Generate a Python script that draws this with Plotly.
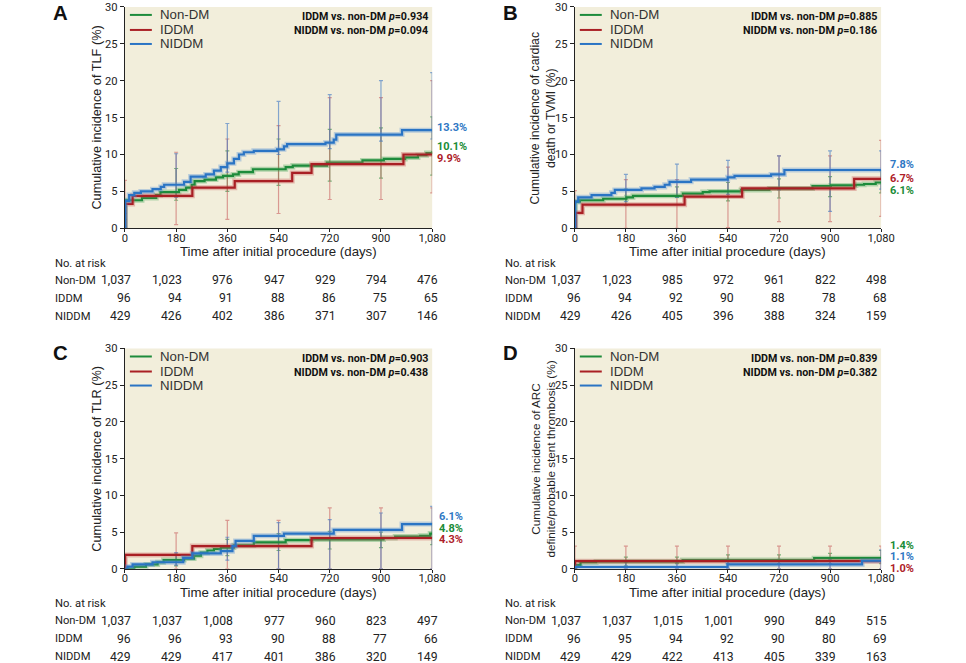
import plotly.graph_objects as go

# ---------------- shared ----------------
TIME_TICKS = [0, 180, 360, 540, 720, 900, 1080]
TIME_TICK_LABELS = ["0", "180", "360", "540", "720", "900", "1,080"]
Y_TICKS = [0, 5, 10, 15, 20, 25, 30]
GROUPS = ["Non-DM", "IDDM", "NIDDM"]

# ---------------- Panel A: TLF ----------------
A_NONDM_T = [0, 1, 60, 110, 125, 190, 215, 235, 245, 280, 320, 345, 380, 400, 450, 565, 590, 710, 835, 910, 985, 1030, 1060, 1080]
A_NONDM_Y = [0, 3.8, 4.1, 4.5, 4.9, 5.2, 5.5, 5.9, 6.4, 6.6, 6.9, 7.1, 7.3, 7.6, 8.0, 8.3, 8.5, 8.9, 9.2, 9.4, 9.6, 9.9, 10.2, 10.4]
A_IDDM_T = [0, 1, 27, 237, 386, 588, 656, 979, 1080]
A_IDDM_Y = [0, 3.3, 4.4, 5.5, 6.4, 7.5, 8.7, 10.0, 10.0]
A_NIDDM_T = [0, 1, 15, 33, 56, 97, 126, 138, 208, 231, 284, 313, 337, 360, 383, 401, 418, 453, 535, 559, 570, 705, 734, 743, 974, 1080]
A_NIDDM_Y = [0, 3.7, 4.5, 4.8, 5.0, 5.3, 5.6, 5.9, 6.3, 7.0, 7.3, 7.8, 8.3, 8.8, 9.4, 10.0, 10.3, 10.5, 10.7, 11.1, 11.4, 11.6, 12.0, 12.7, 13.3, 13.3]
A_CI_T = [0, 180, 360, 540, 720, 900, 1080]
A_NONDM_LO = [1.2, 3.8, 5.0, 5.8, 6.4, 6.8, 7.2]
A_NONDM_HI = [2.9, 8.1, 10.5, 12.1, 13.4, 13.6, 15.1]
A_IDDM_LO = [0.0, 0.5, 1.2, 2.0, 3.9, 3.9, 4.8]
A_IDDM_HI = [6.5, 10.3, 12.1, 13.9, 17.7, 17.7, 20.0]
A_NIDDM_LO = [0.3, 4.2, 7.6, 10.0, 10.8, 11.8, 12.1]
A_NIDDM_HI = [2.0, 10.1, 14.2, 17.2, 18.1, 20.0, 21.1]
A_P_TEXT = ["IDDM vs. non-DM <i>p</i>=0.934", "NIDDM vs. non-DM <i>p</i>=0.094"]
A_END_TEXT = ["10.1%", "9.9%", "13.3%"]

# ---------------- Panel B: cardiac death or TVMI ----------------
B_NONDM_T = [0, 1, 18, 100, 182, 205, 381, 451, 475, 586, 686, 838, 903, 991, 1020, 1061, 1080]
B_NONDM_Y = [0, 3.6, 3.8, 4.0, 4.2, 4.4, 4.7, 4.9, 5.0, 5.2, 5.4, 5.7, 5.8, 5.9, 6.0, 6.2, 6.2]
B_IDDM_T = [0, 3, 27, 387, 590, 985, 1080]
B_IDDM_Y = [0, 2.1, 3.2, 4.3, 5.4, 6.7, 6.7]
B_NIDDM_T = [0, 1, 12, 59, 129, 141, 235, 281, 317, 334, 410, 539, 563, 692, 739, 1080]
B_NIDDM_Y = [0, 3.6, 4.2, 4.5, 4.8, 5.2, 5.4, 5.6, 5.9, 6.3, 6.6, 6.9, 7.1, 7.3, 7.9, 7.9]
B_CI_T = [0, 180, 360, 540, 720, 900, 1080]
B_NONDM_LO = [None, 3.1, 4.2, 3.7, 4.1, 4.3, 4.8]
B_NONDM_HI = [None, 5.3, 5.6, 6.2, 6.7, 7.0, 7.8]
B_IDDM_LO = [0.0, 0.0, 0.0, 0.1, 0.9, 0.9, 1.6]
B_IDDM_HI = [5.1, 6.6, 6.6, 8.3, 9.8, 9.8, 11.9]
B_NIDDM_LO = [1.5, 3.6, 4.2, 4.6, 5.2, 2.3, 5.3]
B_NIDDM_HI = [3.4, 7.3, 8.7, 9.2, 9.8, 10.5, 10.5]
B_P_TEXT = ["IDDM vs. non-DM <i>p</i>=0.885", "NIDDM vs. non-DM <i>p</i>=0.186"]
B_END_TEXT = ["6.1%", "6.7%", "7.8%"]

# ---------------- Panel C: TLR ----------------
C_NONDM_T = [0, 33, 74, 115, 136, 208, 243, 267, 290, 313, 337, 383, 453, 565, 658, 909, 950, 1038, 1073, 1080]
C_NONDM_Y = [0, 0.3, 0.6, 0.9, 1.2, 1.4, 1.8, 2.2, 2.5, 2.7, 2.9, 3.2, 3.6, 3.9, 4.0, 4.2, 4.4, 4.5, 4.8, 4.8]
C_IDDM_T = [0, 1, 237, 656, 1080]
C_IDDM_Y = [0, 1.9, 3.1, 4.2, 4.2]
C_NIDDM_T = [0, 9, 27, 97, 205, 237, 337, 378, 389, 453, 559, 734, 974, 1080]
C_NIDDM_Y = [0, 0.3, 0.6, 0.9, 1.5, 2.1, 2.4, 3.1, 3.8, 4.5, 4.8, 5.3, 6.1, 6.1]
C_CI_T = [180, 360, 540, 720, 900, 1080]
C_NONDM_LO = [0.4, 1.8, 2.5, 2.7, 2.9, 3.3]
C_NONDM_HI = [2.0, 4.0, 4.8, 5.1, 5.0, 6.2]
C_IDDM_LO = [0.0, 0.0, 0.0, 0.0, 0.0, 0.0]
C_IDDM_HI = [4.9, 6.6, 6.6, 8.3, 8.3, 8.3]
C_NIDDM_LO = [0.5, 1.2, 0.0, 0.0, 0.0, 0.0]
C_NIDDM_HI = [2.2, 4.3, 6.3, 6.7, 7.6, 8.5]
C_P_TEXT = ["IDDM vs. non-DM <i>p</i>=0.903", "NIDDM vs. non-DM <i>p</i>=0.438"]
C_END_TEXT = ["4.8%", "4.3%", "6.1%"]

# ---------------- Panel D: ARC definite/probable ST ----------------
D_NONDM_T = [0, 3, 20, 75, 380, 844, 1080]
D_NONDM_Y = [0, 0.5, 0.9, 1.0, 1.2, 1.45, 1.45]
D_IDDM_T = [0, 1, 1080]
D_IDDM_Y = [0, 1.05, 1.05]
D_NIDDM_T = [0, 1, 538, 1013, 1080]
D_NIDDM_Y = [0, 0.25, 0.6, 1.1, 1.1]
D_CI_T = [0, 180, 360, 540, 720, 900, 1080]
D_NONDM_LO = [None, 0.4, 0.7, 0.7, 0.7, 0.7, 0.7]
D_NONDM_HI = [None, 1.6, 1.6, 1.9, 1.9, 2.1, 2.5]
D_IDDM_LO = [0.0, 0.0, 0.0, 0.0, 0.0, 0.0, 0.0]
D_IDDM_HI = [3.1, 3.1, 3.1, 3.1, 3.1, 3.1, 3.1]
D_NIDDM_LO = [None, 0.0, 0.0, 0.0, 0.0, 0.0, 0.0]
D_NIDDM_HI = [None, 0.9, 0.9, 1.3, 1.3, 1.3, 2.6]
D_P_TEXT = ["IDDM vs. non-DM <i>p</i>=0.839", "NIDDM vs. non-DM <i>p</i>=0.382"]
D_END_TEXT = ["1.4%", "1.0%", "1.1%"]

# ---------------- number at risk ----------------
A_RISK_NONDM = ["1,037", "1,023", "976", "947", "929", "794", "476"]
A_RISK_IDDM = ["96", "94", "91", "88", "86", "75", "65"]
A_RISK_NIDDM = ["429", "426", "402", "386", "371", "307", "146"]
B_RISK_NONDM = ["1,037", "1,023", "985", "972", "961", "822", "498"]
B_RISK_IDDM = ["96", "94", "92", "90", "88", "78", "68"]
B_RISK_NIDDM = ["429", "426", "405", "396", "388", "324", "159"]
C_RISK_NONDM = ["1,037", "1,037", "1,008", "977", "960", "823", "497"]
C_RISK_IDDM = ["96", "96", "93", "90", "88", "77", "66"]
C_RISK_NIDDM = ["429", "429", "417", "401", "386", "320", "149"]
D_RISK_NONDM = ["1,037", "1,037", "1,015", "1,001", "990", "849", "515"]
D_RISK_IDDM = ["96", "95", "94", "92", "90", "80", "69"]
D_RISK_NIDDM = ["429", "429", "422", "413", "405", "339", "163"]

Y_TITLES = [
    "Cumulative incidence of TLF (%)",
    "Cumulative incidence of cardiac<br>death or TVMI (%)",
    "Cumulative incidence of TLR (%)",
    "Cumulative incidence of ARC<br>definite/probable stent thrombosis (%)",
]
PANEL_LETTERS = ["A", "B", "C", "D"]
X_TITLE = "Time after initial procedure (days)"

# ---------------- styling ----------------
# The photographed page is slightly scaled/offset; positions below are given in
# target (photo) pixels and converted to page pixels with this mapping.
SX, OX = 0.985, 1.8
SY, OY = 0.979, 6.1
W, H = 980, 672
FK = 1.0 / 0.982  # font compensation


def px(xr):
    return (xr - OX) / SX


def py(yr):
    return (yr - OY) / SY


def fx(xr):
    return px(xr) / W


def fy(yr):
    return 1 - py(yr) / H


def fs(s):
    return round(s * FK, 2)


LINE_COLORS = ["#1d8b3b", "#a91f24", "#2a74c4"]
HALO_COLORS = ["rgba(60,160,80,0.35)", "rgba(200,80,80,0.35)", "rgba(80,140,215,0.35)"]
CI_COLORS = ["rgba(40,140,60,0.6)", "rgba(200,95,95,0.6)", "rgba(55,115,195,0.6)"]
END_COLORS = ["#1a8c37", "#ae2129", "#2f78c4"]
BG = "#f2eedb"
NARROW = "Roboto, Liberation Sans, sans-serif"
REGULAR = "Liberation Sans, Arial, sans-serif"
TXT = "#222222"

# plot areas in target pixels (left, right, top, bottom)
PX = [(124, 432, 7, 228), (575, 882, 7, 228), (124, 432, 348, 568), (575, 882, 348, 568)]
# label positions (data y) for end-of-curve percentages: Non-DM, IDDM, NIDDM
END_Y = [[11.1, 9.5, 13.6], [5.1, 6.8, 8.7], [5.5, 4.0, 7.1], [3.2, 0.0, 1.7]]
END_XSHIFT = [3, 7, 5, 7]
YTITLE_X = [96, 543, 96, 543]
YTITLE_SIZE = [12.5, 12, 12.5, 11.5]
RISK_ROWS_Y = [[263, 280, 298, 316], [263, 280, 298, 316], [603, 620, 638, 656], [603, 620, 638, 656]]
RISK_LABEL_X = [52, 503, 52, 503]
XTITLE_Y = [251, 251, 592, 592]
LETTER_POS = [(59, 13), (511, 13), (59, 353), (511, 353)]
LEGEND_Y = [15, 30, 44]
PVAL_Y = [17, 31]

panels = [
    dict(curves=[(A_NONDM_T, A_NONDM_Y), (A_IDDM_T, A_IDDM_Y), (A_NIDDM_T, A_NIDDM_Y)],
         ci_t=A_CI_T, ci=[(A_NONDM_LO, A_NONDM_HI), (A_IDDM_LO, A_IDDM_HI), (A_NIDDM_LO, A_NIDDM_HI)],
         p=A_P_TEXT, end=A_END_TEXT, risk=[A_RISK_NONDM, A_RISK_IDDM, A_RISK_NIDDM]),
    dict(curves=[(B_NONDM_T, B_NONDM_Y), (B_IDDM_T, B_IDDM_Y), (B_NIDDM_T, B_NIDDM_Y)],
         ci_t=B_CI_T, ci=[(B_NONDM_LO, B_NONDM_HI), (B_IDDM_LO, B_IDDM_HI), (B_NIDDM_LO, B_NIDDM_HI)],
         p=B_P_TEXT, end=B_END_TEXT, risk=[B_RISK_NONDM, B_RISK_IDDM, B_RISK_NIDDM]),
    dict(curves=[(C_NONDM_T, C_NONDM_Y), (C_IDDM_T, C_IDDM_Y), (C_NIDDM_T, C_NIDDM_Y)],
         ci_t=C_CI_T, ci=[(C_NONDM_LO, C_NONDM_HI), (C_IDDM_LO, C_IDDM_HI), (C_NIDDM_LO, C_NIDDM_HI)],
         p=C_P_TEXT, end=C_END_TEXT, risk=[C_RISK_NONDM, C_RISK_IDDM, C_RISK_NIDDM]),
    dict(curves=[(D_NONDM_T, D_NONDM_Y), (D_IDDM_T, D_IDDM_Y), (D_NIDDM_T, D_NIDDM_Y)],
         ci_t=D_CI_T, ci=[(D_NONDM_LO, D_NONDM_HI), (D_IDDM_LO, D_IDDM_HI), (D_NIDDM_LO, D_NIDDM_HI)],
         p=D_P_TEXT, end=D_END_TEXT, risk=[D_RISK_NONDM, D_RISK_IDDM, D_RISK_NIDDM]),
]

fig = go.Figure()
annotations = []
shapes = []
layout_axes = {}

for k, pan in enumerate(panels):
    n = "" if k == 0 else str(k + 1)
    xa, ya = "x" + n, "y" + n
    l, r, t, b = PX[k]
    layout_axes["xaxis" + n] = dict(
        domain=[fx(l), fx(r)], anchor=ya, range=[0, 1080], tickvals=TIME_TICKS,
        ticktext=TIME_TICK_LABELS, ticks="outside", ticklen=3, tickwidth=1, tickcolor="#222",
        ticklabelstandoff=-4,
        showline=True, linecolor="#222", linewidth=1.2, showgrid=False, zeroline=False,
        tickfont=dict(family=NARROW, size=fs(11), color=TXT), fixedrange=True,
    )
    layout_axes["yaxis" + n] = dict(
        domain=[fy(b), fy(t)], anchor=xa, range=[0, 30], tickvals=Y_TICKS,
        ticks="outside", ticklen=4, tickwidth=1, tickcolor="#222",
        showline=True, linecolor="#222", linewidth=1.2, showgrid=False, zeroline=False,
        tickfont=dict(family=NARROW, size=fs(11), color=TXT), fixedrange=True,
    )
    # plot background
    shapes.append(dict(type="rect", xref=xa + " domain", yref=ya + " domain", x0=0, x1=1, y0=0, y1=1,
                       fillcolor=BG, line=dict(width=0), layer="below"))

    # confidence-interval bars
    for g in range(3):
        lo, hi = pan["ci"][g]
        xs, ys, up, dn = [], [], [], []
        for ti, a, c in zip(pan["ci_t"], lo, hi):
            if a is None or c is None:
                continue
            m = (a + c) / 2
            xs.append(ti); ys.append(m); up.append(c - m); dn.append(m - a)
        fig.add_trace(go.Scatter(
            x=xs, y=ys, mode="markers", marker=dict(size=1, color="rgba(0,0,0,0)"),
            error_y=dict(type="data", symmetric=False, array=up, arrayminus=dn,
                         color=CI_COLORS[g], thickness=1.2, width=2),
            xaxis=xa, yaxis=ya, showlegend=False, hoverinfo="skip", cliponaxis=False))

    # step curves (halo + line)
    for g in (0, 1, 2):
        tt, yy = pan["curves"][g]
        fig.add_trace(go.Scatter(x=tt, y=yy, mode="lines", line=dict(shape="hv", color=HALO_COLORS[g], width=5),
                                 xaxis=xa, yaxis=ya, showlegend=False, hoverinfo="skip"))
        fig.add_trace(go.Scatter(x=tt, y=yy, mode="lines", line=dict(shape="hv", color=LINE_COLORS[g], width=2.2),
                                 xaxis=xa, yaxis=ya, showlegend=False, name=GROUPS[g]))

    # legend (inside top-left)
    for g, dy in enumerate(LEGEND_Y):
        yy = fy(t + dy - 7)
        shapes.append(dict(type="line", xref="paper", yref="paper", x0=fx(l + 5), x1=fx(l + 27),
                           y0=yy, y1=yy, line=dict(color=LINE_COLORS[g], width=2)))
        annotations.append(dict(xref="paper", yref="paper", x=fx(l + 33), y=yy, text=GROUPS[g],
                                showarrow=False, xanchor="left", yanchor="middle",
                                font=dict(family=REGULAR, size=fs(13), color="#333")))
    # p values
    for j, dy in enumerate(PVAL_Y):
        annotations.append(dict(xref="paper", yref="paper", x=fx(r - 2), y=fy(t + dy - 7),
                                text="<b>" + pan["p"][j] + "</b>", showarrow=False, xanchor="right",
                                yanchor="middle", font=dict(family=NARROW, size=fs(10.5), color="#111")))
    # end labels
    for g in range(3):
        annotations.append(dict(xref=xa, yref=ya, x=1080, y=END_Y[k][g], xshift=END_XSHIFT[k] / SX,
                                text="<b>" + pan["end"][g] + "</b>", showarrow=False, xanchor="left",
                                yanchor="middle", font=dict(family=NARROW, size=11, color=END_COLORS[g])))
    # axis titles
    annotations.append(dict(xref="paper", yref="paper", x=fx(YTITLE_X[k]), y=fy((t + b) / 2),
                            text=Y_TITLES[k], textangle=-90, showarrow=False, xanchor="center",
                            yanchor="middle", font=dict(family=REGULAR, size=fs(YTITLE_SIZE[k]), color=TXT)))
    annotations.append(dict(xref="paper", yref="paper", x=fx((l + r) / 2), y=fy(XTITLE_Y[k]),
                            text=X_TITLE, showarrow=False, xanchor="center", yanchor="middle",
                            font=dict(family=REGULAR, size=fs(13), color=TXT)))
    # panel letter
    lx, ly = LETTER_POS[k]
    annotations.append(dict(xref="paper", yref="paper", x=fx(lx), y=fy(ly), text="<b>" + PANEL_LETTERS[k] + "</b>",
                            showarrow=False, xanchor="center", yanchor="middle",
                            font=dict(family=REGULAR, size=fs(20), color="#111")))
    # number-at-risk table
    rows_y = RISK_ROWS_Y[k]
    annotations.append(dict(xref="paper", yref="paper", x=fx(RISK_LABEL_X[k]), y=fy(rows_y[0]),
                            text="No. at risk", showarrow=False, xanchor="left", yanchor="middle",
                            font=dict(family=NARROW, size=fs(11), color=TXT)))
    for g in range(3):
        yy = fy(rows_y[g + 1])
        annotations.append(dict(xref="paper", yref="paper", x=fx(RISK_LABEL_X[k]), y=yy, text=GROUPS[g],
                                showarrow=False, xanchor="left", yanchor="middle",
                                font=dict(family=NARROW, size=fs(11), color=TXT)))
        for ti, val in zip(TIME_TICKS, pan["risk"][g]):
            annotations.append(dict(xref=xa, yref="paper", x=ti, y=yy, xshift=8 / SX, text=val,
                                    showarrow=False, xanchor="right", yanchor="middle",
                                    font=dict(family=NARROW, size=fs(12), color=TXT)))

fig.update_layout(
    width=W, height=H, autosize=False, margin=dict(l=0, r=0, t=0, b=0),
    paper_bgcolor="white", plot_bgcolor="rgba(0,0,0,0)", showlegend=False,
    annotations=annotations, shapes=shapes, **layout_axes,
)
PAGE_FIX = (
    "document.documentElement.style.margin='0';document.body.style.margin='0';"
    "document.body.style.padding='0';document.documentElement.style.overflow='hidden';"
    "document.body.style.overflow='hidden';"
    "var gd=document.querySelector('.plotly-graph-div');"
    "gd.style.position='fixed';gd.style.left='0px';gd.style.top='0px';"
)
fig.write_html("out.html", config={"displayModeBar": False}, post_script=PAGE_FIX)
